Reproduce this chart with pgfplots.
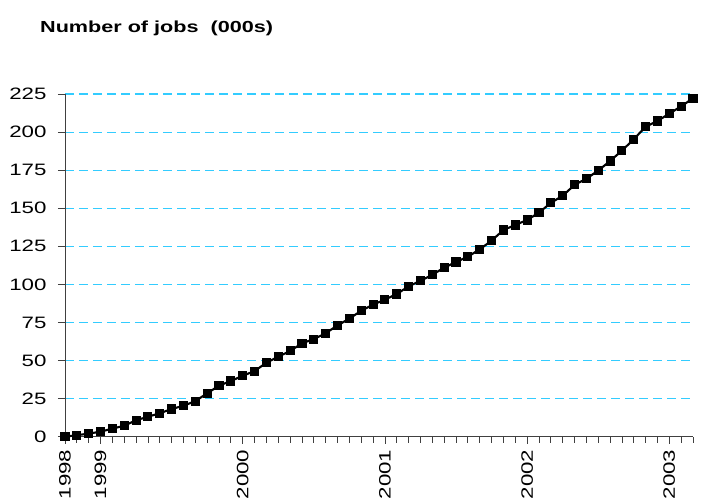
\documentclass[border=0pt]{standalone}
\usepackage{fontspec}
\setmainfont{Liberation Sans}[FakeStretch=1.35]
\usepackage{pgfplots}
\pgfplotsset{compat=1.18}
\definecolor{gridcyan}{RGB}{51,204,255}
\begin{document}
\begin{tikzpicture}
\path[use as bounding box] (-65bp,-62.3bp) rectangle (636bp,436.7bp);
\begin{axis}[
  at={(0,0)}, anchor=south west,
  scale only axis,
  width=628bp, height=342.7bp,
  xmin=0, xmax=53, ymin=0, ymax=225,
  clip=false,
  axis lines=left,
  axis line style={black!75, line width=0.8bp, -},
  ytick={0,25,...,225},
  xtick={0,3,15,27,39,51},
  xticklabels={1998,1999,2000,2001,2002,2003},
  minor xtick={0,...,53},
  tick align=outside,
  major tick length=7bp,
  minor tick length=6bp,
  every tick/.style={black!75, line width=0.8bp},
  ymajorgrids,
  grid style={gridcyan, line width=1.1bp, dash pattern=on 9bp off 5bp},
  /pgf/number format/assume math mode=true,
  tick label style={font=\fontsize{16.5bp}{19bp}\selectfont},
  xticklabel style={rotate=90, anchor=east, xshift=-2.5bp},
  yticklabel style={anchor=east, xshift=-8bp},
]
\addplot[black, line width=2.1bp, mark=square*, mark size=3.5bp, mark options={solid, fill=black}]
coordinates {
(0,0) (1,1) (2,2) (3,3.3) (4,5.3) (5,7.2) (6,10.8) (7,13.1) (8,15.4) (9,18.2)
(10,20.3) (11,23.4) (12,28.5) (13,33.5) (14,36.6) (15,40) (16,43.1) (17,48.6) (18,52.5) (19,56.3)
(20,61.3) (21,64.1) (22,67.9) (23,73.1) (24,77.5) (25,82.7) (26,86.7) (27,90) (28,93.7) (29,98.7)
(30,102.4) (31,106.3) (32,111) (33,114.7) (34,118.2) (35,123) (36,128.7) (37,135.7) (38,139) (39,142.3)
(40,147.1) (41,153.5) (42,158.2) (43,165.3) (44,169.4) (45,174.7) (46,181) (47,187.8) (48,195.3) (49,203.5)
(50,207.3) (51,212.1) (52,216.9) (53,222.2)
};
\end{axis}
\node[anchor=base west, font=\bfseries\fontsize{16bp}{19bp}\selectfont, inner sep=0pt] at (-25bp,403.7bp) {Number of jobs\ \ (000s)};
\end{tikzpicture}
\end{document}
